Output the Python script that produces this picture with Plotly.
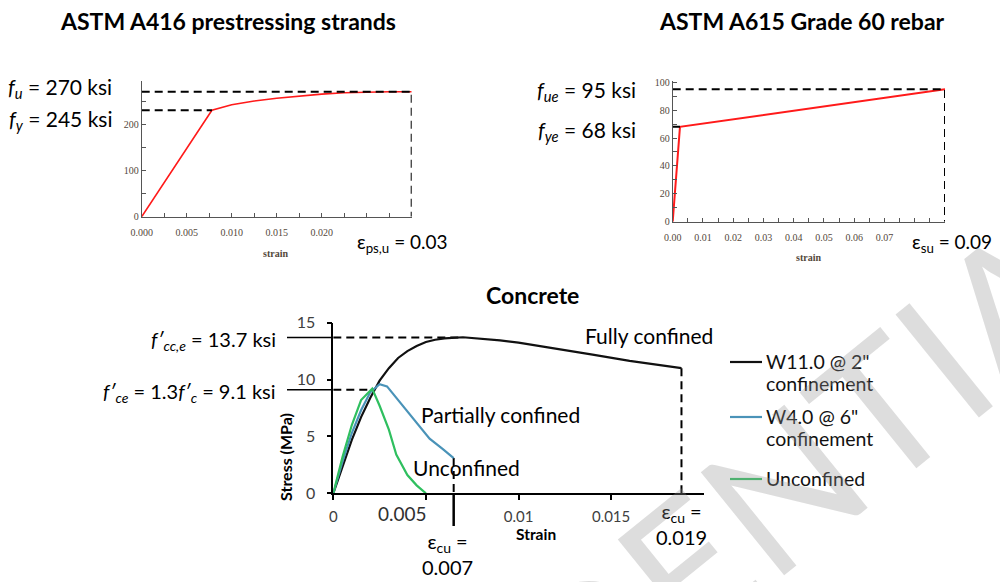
import plotly.graph_objects as go

# ---------------- data ----------------
# ASTM A416 prestressing strand (ksi vs strain)
strand_strain = [0, 0.0078, 0.010, 0.0125, 0.015, 0.0175, 0.020, 0.0225, 0.025, 0.0275, 0.030]
strand_stress = [0, 230, 242, 250, 256, 261, 265, 268, 269.5, 270, 270]
strand_fu = 270
strand_knee = 230
strand_knee_strain = 0.0078
strand_eps_u = 0.030

# ASTM A615 Grade 60 rebar (ksi vs strain)
rebar_strain = [0, 0.0024, 0.09]
rebar_stress = [0, 68, 95]
rebar_fue = 95
rebar_fye = 68
rebar_eps_y = 0.0024
rebar_eps_u = 0.09

# Concrete stress-strain (MPa vs strain)
full_strain = [0, 0.0005, 0.001, 0.0015, 0.002, 0.0025, 0.003, 0.0035, 0.004, 0.0045, 0.005,
               0.0055, 0.006, 0.007, 0.008, 0.009, 0.010, 0.012, 0.014, 0.016, 0.0188]
full_stress = [0, 2.4, 4.7, 6.7, 8.4, 9.9, 11.0, 11.9, 12.5, 12.95, 13.3,
               13.5, 13.62, 13.72, 13.6, 13.45, 13.25, 12.75, 12.2, 11.65, 11.0]
part_strain = [0, 0.0005, 0.001, 0.0015, 0.002, 0.0025, 0.0029, 0.0033, 0.0038, 0.0045, 0.0052, 0.0059, 0.0065]
part_stress = [0, 2.8, 5.3, 7.3, 8.9, 9.6, 9.4, 8.6, 7.5, 6.1, 4.8, 3.9, 3.1]
unc_strain = [0, 0.0005, 0.001, 0.0015, 0.0021, 0.0025, 0.003, 0.0034, 0.004, 0.0045, 0.005]
unc_stress = [0, 3.2, 6.0, 8.2, 9.2, 7.7, 5.6, 3.4, 1.6, 0.7, 0]
fcc = 13.7
fcc_strain = 0.007
fce = 9.1
fce_strain = 0.0022
eps_cu_part = 0.0065
eps_cu_full = 0.0188

legend_lines = [['W11.0 @ 2"', 'confinement'], ['W4.0 @ 6"', 'confinement'], ['Unconfined']]
line_colors = ['#111111', '#4a93b8', '#2fbf5f']

SANS = "Lato, 'Noto Sans', sans-serif"
SERIF = "'Liberation Serif', 'DejaVu Serif', serif"
TICK_BROWN = '#54483b'
DASH = '8px,5px'

W, H = 1000, 582


def px_x(p):
    return p / W


def px_y(p):
    return 1 - p / H


fig = go.Figure()

# ---------- strand panel ----------
fig.add_trace(go.Scatter(x=strand_strain, y=strand_stress, mode='lines',
                         line=dict(color='#ff1a1a', width=1.6), xaxis='x', yaxis='y'))
fig.add_trace(go.Scatter(x=[0, strand_eps_u, strand_eps_u], y=[strand_fu, strand_fu, 0],
                         mode='lines', line=dict(color='black', width=2, dash=DASH),
                         xaxis='x', yaxis='y'))
fig.add_trace(go.Scatter(x=[0, strand_knee_strain], y=[strand_knee, strand_knee],
                         mode='lines', line=dict(color='black', width=2, dash=DASH),
                         xaxis='x', yaxis='y'))

# ---------- rebar panel ----------
fig.add_trace(go.Scatter(x=rebar_strain, y=rebar_stress, mode='lines',
                         line=dict(color='#ff1a1a', width=2), xaxis='x2', yaxis='y2'))
fig.add_trace(go.Scatter(x=[0, rebar_eps_u, rebar_eps_u], y=[rebar_fue, rebar_fue, 0],
                         mode='lines', line=dict(color='black', width=2, dash=DASH),
                         xaxis='x2', yaxis='y2'))
fig.add_trace(go.Scatter(x=[0, rebar_eps_y], y=[rebar_fye, rebar_fye],
                         mode='lines', line=dict(color='black', width=2),
                         xaxis='x2', yaxis='y2'))

# ---------- concrete panel ----------
for xs, ys in [([0, fcc_strain], [fcc, fcc]), ([0, fce_strain], [fce, fce]),
               ([eps_cu_part, eps_cu_part], [part_stress[-1], 0]),
               ([eps_cu_full, eps_cu_full], [full_stress[-1], 0])]:
    fig.add_trace(go.Scatter(x=xs, y=ys, mode='lines',
                             line=dict(color='black', width=2, dash=DASH),
                             xaxis='x3', yaxis='y3'))

for i, (xs, ys) in enumerate([(full_strain, full_stress), (part_strain, part_stress),
                              (unc_strain, unc_stress)]):
    fig.add_trace(go.Scatter(x=xs, y=ys, mode='lines',
                             line=dict(color=line_colors[i], width=2.2),
                             xaxis='x3', yaxis='y3'))

# ---------- axes ----------
serif_axis = dict(showline=True, linecolor='#555555', linewidth=1, showgrid=False,
                  zeroline=False, ticks='inside', ticklen=4, tickcolor='#555555',
                  automargin=False,
                  tickfont=dict(family=SERIF, size=10, color=TICK_BROWN))
minor_in = dict(ticks='inside', ticklen=4, tickcolor='#555555', tick0=0)

fig.update_layout(
    xaxis=dict(serif_axis, domain=[px_x(141.7), px_x(411.7)], range=[0, 0.030],
               anchor='y', tickvals=[0, 0.005, 0.010, 0.015, 0.020],
               ticktext=['0.000', '0.005', '0.010', '0.015', '0.020'],
               minor=dict(minor_in, dtick=0.0025), ticklabelstandoff=6),
    yaxis=dict(serif_axis, domain=[px_y(216.7), px_y(80.7)], range=[0, 294], anchor='x',
               tickvals=[0, 100, 200], minor=dict(minor_in, dtick=50)),
    xaxis2=dict(serif_axis, domain=[px_x(672.7), px_x(945)], range=[0, 0.09],
                anchor='y2', tickvals=[0, 0.01, 0.02, 0.03, 0.04, 0.05, 0.06, 0.07],
                ticktext=['0.00', '0.01', '0.02', '0.03', '0.04', '0.05', '0.06', '0.07'],
                minor=dict(minor_in, dtick=0.005), ticklabelstandoff=6),
    yaxis2=dict(serif_axis, domain=[px_y(221.7), px_y(80.7)], range=[0, 101.1], anchor='x2',
                tickvals=[0, 20, 40, 60, 80, 100], minor=dict(minor_in, dtick=10)),
    xaxis3=dict(domain=[px_x(333.3), px_x(703.7)], range=[0, 0.02], anchor='y3',
                showline=True, linecolor='black', linewidth=1.5, showgrid=False, zeroline=False,
                ticks='outside', ticklen=5, tickcolor='black', tickwidth=1.5, automargin=False,
                tickvals=[0, 0.005, 0.01, 0.015], ticktext=['0', '', '0.01', '0.015'],
                tickfont=dict(family=SANS, size=15, color='#404040'), ticklabelstandoff=4),
    yaxis3=dict(domain=[px_y(493.3), px_y(322.7)], range=[0, 15], anchor='x3',
                showline=True, linecolor='black', linewidth=1.5, showgrid=False, zeroline=False,
                ticks='outside', ticklen=5, tickcolor='black', tickwidth=1.5, automargin=False,
                tickvals=[0, 5, 10, 15],
                tickfont=dict(family=SANS, size=16, color='#404040'), ticklabelstandoff=8),
)

# solid leader lines left of the concrete stress axis and under the strain axis
for val in (fcc, fce):
    fig.add_shape(type='line', xref='paper', yref='y3', x0=px_x(287), x1=px_x(333.3),
                  y0=val, y1=val, line=dict(color='black', width=1.5))
fig.add_shape(type='line', xref='x3', yref='paper', x0=eps_cu_part, x1=eps_cu_part,
              y0=px_y(526), y1=px_y(493.3), line=dict(color='black', width=2.5))

# ---------- text ----------
ann = []


def txt(x, y, text, size=19, xanchor='center', yanchor='middle', family=SANS,
        color='black', **kw):
    ann.append(dict(x=x, y=y, xref='paper', yref='paper', text=text, showarrow=False,
                    xanchor=xanchor, yanchor=yanchor,
                    font=dict(family=family, size=size, color=color), **kw))


txt(px_x(228), px_y(21), '<b>ASTM A416 prestressing strands</b>', size=23)
txt(px_x(802), px_y(21), '<b>ASTM A615 Grade 60 rebar</b>', size=23)
txt(px_x(532), px_y(295), '<b>Concrete</b>', size=23)

txt(px_x(114), px_y(88), '<i>f</i><sub><i>u</i></sub> = 270 ksi', size=21, xanchor='right')
txt(px_x(114), px_y(120), '<i>f</i><sub><i>y</i></sub> = 245 ksi', size=21, xanchor='right')
txt(px_x(638), px_y(91), '<i>f</i><sub><i>ue</i></sub> = 95 ksi', size=21, xanchor='right')
txt(px_x(638), px_y(131), '<i>f</i><sub><i>ye</i></sub> = 68 ksi', size=21, xanchor='right')
txt(px_x(355), px_y(243), 'ε<sub>ps,u</sub> = 0.03', xanchor='left')
txt(px_x(910), px_y(243), 'ε<sub>su</sub> = 0.09', xanchor='left')

txt(px_x(275), px_y(253), '<b>strain</b>', size=10, family=SERIF, color=TICK_BROWN)
txt(px_x(808), px_y(257), '<b>strain</b>', size=10, family=SERIF, color=TICK_BROWN)

txt(px_x(278), px_y(340), '<i>f′</i><sub><i>cc,e</i></sub> = 13.7 ksi', size=20, xanchor='right')
txt(px_x(278), px_y(392), '<i>f′</i><sub><i>ce</i></sub> = 1.3<i>f′</i><sub><i>c</i></sub> = 9.1 ksi',
    size=20, xanchor='right')

txt(px_x(649), px_y(336), 'Fully confined', size=21)
txt(px_x(500), px_y(414), 'Partially confined', size=21)
txt(px_x(466), px_y(467), 'Unconfined', size=21)

txt(px_x(285), px_y(457), '<b>Stress (MPa)</b>', size=16, textangle=-90)
txt(px_x(536), px_y(534), '<b>Strain</b>', size=15.5)

txt(px_x(447), px_y(554), 'ε<sub>cu</sub> =<br>0.007', size=20)
txt(px_x(681), px_y(524), 'ε<sub>cu</sub> =<br>0.019', size=20)

# enlarged label for the 0.005 strain tick
ann.append(dict(x=0.005, y=0, xref='x3', yref='y3', text='0.005', showarrow=False,
                xanchor='center', yanchor='top', xshift=-23, yshift=-7,
                font=dict(family=SANS, size=19, color='#303030')))

# legend for the concrete curves
legend_y = [362, 417, 479]
for color, lines, yy in zip(line_colors, legend_lines, legend_y):
    fig.add_shape(type='line', xref='paper', yref='paper', x0=px_x(730), x1=px_x(762),
                  y0=px_y(yy), y1=px_y(yy), line=dict(color=color, width=2.2))
    for k, line in enumerate(lines):
        txt(px_x(764), px_y(yy - 1 + 22 * k), line, size=19.5, xanchor='left',
            color='#111111')

# watermark
ann.append(dict(x=px_x(612), y=px_y(622), xref='paper', yref='paper', text='CONFIDENTIAL',
                showarrow=False, textangle=-39, xanchor='center', yanchor='middle',
                font=dict(family=SANS, size=185, color='rgba(150,150,150,0.32)')))

fig.update_layout(
    annotations=ann,
    width=W, height=H,
    margin=dict(l=0, r=0, t=0, b=0, autoexpand=False),
    paper_bgcolor='white', plot_bgcolor='white',
    font=dict(family=SANS),
    showlegend=False,
)

fig.write_html('out.html')
